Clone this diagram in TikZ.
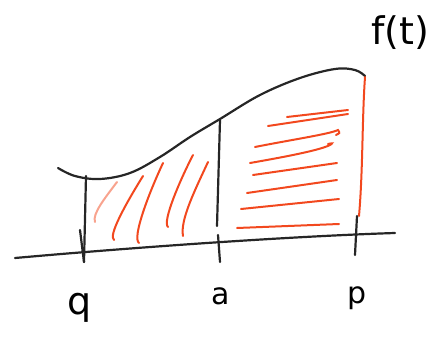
\documentclass[tikz,border=0pt]{standalone}
\usepackage{fontspec}
\setmainfont{DejaVu Sans}
\definecolor{hatchred}{RGB}{242,72,30}
\begin{document}
\begin{tikzpicture}[x=1pt,y=-1pt,
  ink/.style={black!85, line width=2.2pt, line cap=round, line join=round},
  hatch/.style={draw=hatchred, line width=2pt, line cap=round},
  lbl/.style={font=\fontsize{30}{30}\selectfont, inner sep=0pt}]
\useasboundingbox (0,0) rectangle (439,342);
% axis
\coordinate (ax0) at (15,258);
\coordinate (ax1) at (395,233);
\draw[ink] (ax0) .. controls (150,246) and (300,236) .. (ax1);
% curve f(t)
\draw[ink] plot[smooth, tension=0.6] coordinates {(58,168) (75,176) (100,179) (130,173) (160,157) (190,137) (220,119) (260,95) (300,78) (335,69) (355,70) (365,76)};
% q line
\coordinate (q0) at (86,176);
\coordinate (q1) at (84,262);
\draw[ink] (q0) -- (q1);
\draw[ink] (80,230) -- (84,262);
% a line
\coordinate (a0) at (220,120);
\coordinate (a1) at (217,226);
\draw[ink] (a0) -- (a1);
\coordinate (a2) at (218,235);
\coordinate (a3) at (220,262);
\draw[ink] (a2) -- (a3);
% p line
\coordinate (p0) at (365,77);
\coordinate (p1) at (359,216);
\draw[hatch] (p0) .. controls (362,120) and (363,170) .. (p1);
\coordinate (p2) at (357,216);
\coordinate (p3) at (355,255);
\draw[ink] (p2) -- (p3);
% left hatching
\draw[hatch, draw opacity=0.5] (95,222) .. controls (92,214) and (105,198) .. (117,182);
\draw[hatch] (114,240) .. controls (108,236) and (125,205) .. (143,176);
\draw[hatch] (139,243) .. controls (132,238) and (148,195) .. (163,163);
\draw[hatch] (168,227) .. controls (162,222) and (180,180) .. (193,155);
\draw[hatch] (183,236) .. controls (180,220) and (195,190) .. (208,162);
% right hatching
\draw[hatch] (287,117) -- (348,110);
\draw[hatch] (268,126) -- (348,114);
\draw[hatch] (255,147) .. controls (290,140) and (330,134) .. (338,130) .. controls (340,133) .. (336,135);
\draw[hatch] (250,163) .. controls (290,156) and (320,150) .. (330,145) .. controls (333,143) .. (328,144);
\draw[hatch] (253,175) -- (337,163);
\draw[hatch] (247,193) -- (337,180);
\draw[hatch] (241,209) -- (339,199);
\draw[hatch] (237,228) -- (339,224);
% labels
\node[lbl, font=\fontsize{38}{38}\selectfont] (q) at (80,308) {q};
\node[lbl] (a) at (221,296) {a};
\node[lbl] (p) at (357,298) {p};
\node[lbl, font=\fontsize{38}{38}\selectfont] (f) at (400,33) {f(t)};
\end{tikzpicture}
\end{document}
